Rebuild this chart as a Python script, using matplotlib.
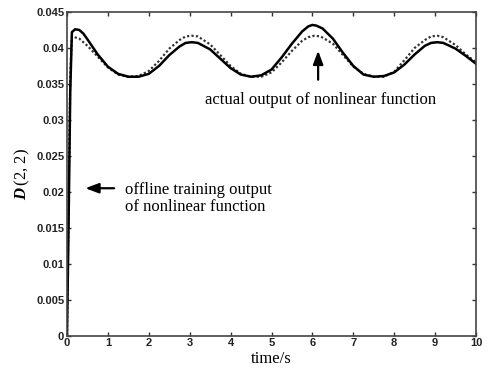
import matplotlib.pyplot as plt
from matplotlib.ticker import FormatStrFormatter

plt.rcParams["mathtext.fontset"] = "custom"
plt.rcParams["mathtext.bfit"] = "Liberation Serif:italic:bold"
plt.rcParams["mathtext.rm"] = "Liberation Serif"

# values
t_actual = [0, 0.04, 0.08, 0.12, 0.2, 0.3, 0.4, 0.5, 0.75, 1.0, 1.25, 1.5, 1.75, 2.0,
            2.25, 2.5, 2.75, 2.9, 3.05, 3.2, 3.5, 3.75, 4.0, 4.25, 4.5, 4.75, 5.0,
            5.25, 5.5, 5.75, 5.9, 6.0, 6.1, 6.25, 6.5, 6.75, 7.0, 7.25, 7.5, 7.75,
            8.0, 8.25, 8.5, 8.75, 8.9, 9.05, 9.2, 9.5, 9.75, 10.0]
d_actual = [0, 0.016, 0.034, 0.0422, 0.0426, 0.0425, 0.0420, 0.0412, 0.0391, 0.0374,
            0.0364, 0.0360, 0.0360, 0.0364, 0.0375, 0.0390, 0.0402, 0.0407, 0.0408,
            0.0407, 0.0398, 0.0385, 0.0372, 0.0363, 0.0360, 0.0362, 0.0370, 0.0387,
            0.0406, 0.0423, 0.0430, 0.0432, 0.0431, 0.0427, 0.0413, 0.0393, 0.0375,
            0.0363, 0.0360, 0.0361, 0.0366, 0.0377, 0.0391, 0.0403, 0.0407, 0.0408,
            0.0407, 0.0399, 0.0389, 0.0378]

t_offline = [0, 0.04, 0.08, 0.12, 0.3, 0.5, 0.75, 1.0, 1.25, 1.5, 1.75, 2.0, 2.25, 2.5,
             2.75, 2.9, 3.05, 3.2, 3.5, 3.75, 4.0, 4.25, 4.5, 4.75, 5.0, 5.25, 5.5,
             5.75, 5.9, 6.05, 6.2, 6.5, 6.75, 7.0, 7.25, 7.5, 7.75, 8.0, 8.25, 8.5,
             8.75, 8.9, 9.05, 9.2, 9.5, 9.75, 10.0]
d_offline = [0, 0.018, 0.036, 0.0416, 0.0413, 0.0403, 0.0388, 0.0373, 0.0363, 0.0360,
             0.0361, 0.0368, 0.0382, 0.0399, 0.0411, 0.0416, 0.0417, 0.0416, 0.0405,
             0.0390, 0.0375, 0.0364, 0.0360, 0.0360, 0.0366, 0.0380, 0.0396, 0.0410,
             0.0415, 0.0417, 0.0416, 0.0406, 0.0390, 0.0374, 0.0364, 0.0360, 0.0360,
             0.0367, 0.0383, 0.0400, 0.0411, 0.0416, 0.0417, 0.0415, 0.0404, 0.0391,
             0.0380]

y_ticks = [0, 0.005, 0.01, 0.015, 0.02, 0.025, 0.03, 0.035, 0.04, 0.045]
x_ticks = list(range(0, 11))

fig = plt.figure(figsize=(4.94, 3.71), dpi=100)
ax = fig.add_axes([0.1356, 0.0951, 0.828, 0.8726])

ax.plot(t_offline, d_offline, color="#333333", lw=1.6, ls=(0, (1, 1)))
ax.plot(t_actual, d_actual, color="black", lw=1.8, solid_joinstyle="round")

ax.set_xlim(0, 10)
ax.set_ylim(0, 0.045)
ax.set_xticks(x_ticks)
ax.set_yticks(y_ticks)
ax.yaxis.set_major_formatter(FormatStrFormatter("%g"))
ax.tick_params(direction="in", top=True, right=True, length=3, width=1,
               labelsize=8, pad=2, color="#333333")
for lbl in ax.get_xticklabels() + ax.get_yticklabels():
    lbl.set_fontweight("bold")
    lbl.set_fontfamily("Liberation Sans")
    lbl.set_color("#222222")
for sp in ax.spines.values():
    sp.set_color("#444444")
    sp.set_linewidth(1.2)

serif = "Liberation Serif"
ax.set_xlabel("time/s", fontfamily=serif, fontsize=12, labelpad=2)
ax.set_ylabel(r"$\mathbfit{D}\,$(2, 2)", fontfamily=serif, fontsize=12, labelpad=3)

ax.annotate("", xy=(6.14, 0.0400), xytext=(6.14, 0.0352),
            arrowprops=dict(arrowstyle="-|>,head_width=0.3,head_length=0.8",
                            color="black", lw=1.6))
ax.text(3.37, 0.0328, "actual output of nonlinear function",
        fontfamily=serif, fontsize=12, va="center")

ax.annotate("", xy=(0.38, 0.0205), xytext=(1.22, 0.0205),
            arrowprops=dict(arrowstyle="-|>,head_width=0.3,head_length=0.8",
                            color="black", lw=1.6))
ax.text(1.42, 0.0191, "offline training output\nof nonlinear function",
        fontfamily=serif, fontsize=12, va="center", linespacing=1.1)

fig.savefig("out.png", dpi=100)
